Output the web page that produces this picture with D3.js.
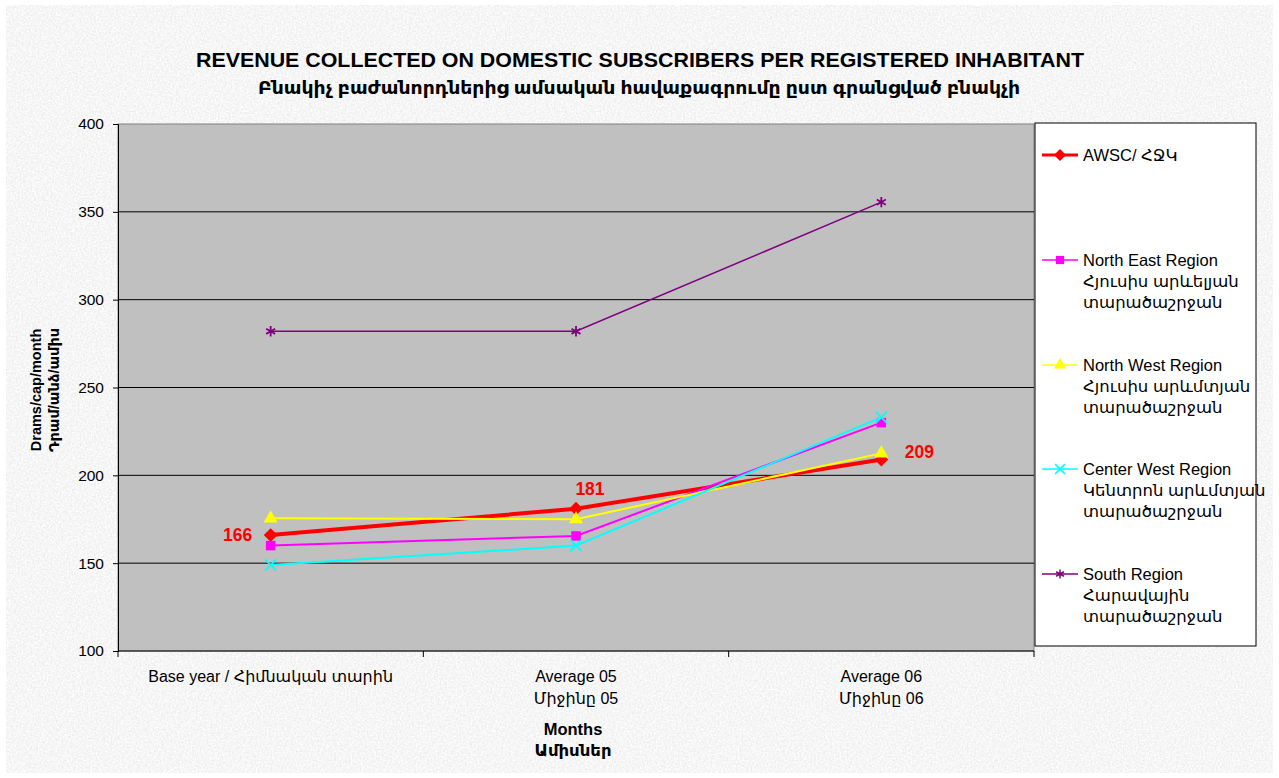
<!DOCTYPE html>
<html>
<head>
<meta charset="utf-8">
<script src="https://cdn.jsdelivr.net/npm/d3@7"></script>
<style>
  body { margin: 0; background: #fff; }
  svg { display: block; }
  text { font-family: "Liberation Sans", Arial, "DejaVu Sans", sans-serif; }
</style>
</head>
<body>
<script>
// revenue per registered inhabitant chart

const categories = ["Base year / Հիմնական տարին", "Average 05\nՄիջինը 05", "Average 06\nՄիջինը 06"];
const seriesNames = ["AWSC/ ՀՋԿ", "North East Region\nՀյուսիս արևելյան\nտարածաշրջան",
                     "North West Region\nՀյուսիս արևմտյան\nտարածաշրջան",
                     "Center West Region\nԿենտրոն արևմտյան\nտարածաշրջան",
                     "South Region\nՀարավային\nտարածաշրջան"];
const awsc = [166, 181, 209];
const northEast = [160, 165.5, 230];
const northWest = [175.5, 175, 212.5];
const centerWest = [149, 160, 233];
const south = [282, 282, 355.5];
const yTicks = [100, 150, 200, 250, 300, 350, 400];

const W = 1279, H = 778;
const plot = {left: 118, top: 124, right: 1034, bottom: 651};

const svg = d3.select("body").append("svg")
    .attr("width", W).attr("height", H);

// granite-ish background
const defs = svg.append("defs");
const f = defs.append("filter").attr("id", "granite")
    .attr("x", 0).attr("y", 0).attr("width", "100%").attr("height", "100%");
f.append("feTurbulence").attr("type", "fractalNoise")
    .attr("baseFrequency", 0.55).attr("numOctaves", 2).attr("seed", 3);
f.append("feColorMatrix").attr("type", "matrix")
    .attr("values", "0.28 0 0 0 0.78  0.28 0 0 0 0.78  0.28 0 0 0 0.78  0 0 0 0 1");

svg.append("rect").attr("x", 6).attr("y", 5).attr("width", W - 12).attr("height", H - 10)
    .attr("filter", "url(#granite)");

const x = d3.scalePoint().domain(d3.range(categories.length))
    .range([plot.left, plot.right]).padding(0.5);
const y = d3.scaleLinear().domain([100, 400]).range([plot.bottom, plot.top]);

// plot area
svg.append("rect").attr("x", plot.left).attr("y", plot.top)
    .attr("width", plot.right - plot.left).attr("height", plot.bottom - plot.top)
    .attr("fill", "#c0c0c0").attr("stroke", "#808080").attr("stroke-width", 1);

// gridlines
svg.append("g").selectAll("line").data(yTicks.slice(1, -1)).join("line")
    .attr("x1", plot.left).attr("x2", plot.right)
    .attr("y1", d => y(d)).attr("y2", d => y(d))
    .attr("stroke", "#000").attr("stroke-width", 1);

// y axis
const yAxis = svg.append("g").attr("transform", `translate(${plot.left},0)`)
    .call(d3.axisLeft(y).tickValues(yTicks).tickSize(5).tickPadding(9));
yAxis.select(".domain").attr("stroke", "#000");
yAxis.selectAll("text").attr("font-size", 15.5).attr("fill", "#000")
    .style("font-family", '"Liberation Sans", Arial, sans-serif');

// x axis: ticks between categories
const step = x.step();
const xb = d3.range(categories.length + 1).map(i => plot.left + i * step);
svg.append("line").attr("x1", plot.left).attr("x2", plot.right)
    .attr("y1", plot.bottom).attr("y2", plot.bottom).attr("stroke", "#000");
svg.append("g").selectAll("line").data(xb).join("line")
    .attr("x1", d => d).attr("x2", d => d)
    .attr("y1", plot.bottom).attr("y2", plot.bottom + 6).attr("stroke", "#000");

const xl = svg.append("g").selectAll("text").data(categories).join("text")
    .attr("text-anchor", "middle").attr("font-size", 16).attr("fill", "#000");
xl.each(function(d, i) {
  d3.select(this).selectAll("tspan").data(d.split("\n")).join("tspan")
    .attr("x", x(i)).attr("y", (t, j) => 682 + j * 22).text(t => t);
});

// axis titles
svg.append("text").attr("x", 573).attr("y", 735).attr("text-anchor", "middle")
    .attr("font-size", 16.5).attr("font-weight", "bold").text("Months");
svg.append("text").attr("x", 573).attr("y", 756).attr("text-anchor", "middle")
    .attr("font-size", 16.5).attr("font-weight", "bold").text("Ամիսներ");
const yt = svg.append("text").attr("transform", "translate(41,390) rotate(-90)")
    .attr("text-anchor", "middle").attr("font-size", 14.5).attr("font-weight", "bold");
yt.append("tspan").attr("x", 0).attr("y", 0).text("Drams/cap/month");
yt.append("tspan").attr("x", 0).attr("y", 18).text("Դրամ/անձ/ամիս");

// titles
svg.append("text").attr("x", 640).attr("y", 67).attr("text-anchor", "middle")
    .attr("font-size", 20.5).attr("font-weight", "bold")
    .attr("textLength", 888).attr("lengthAdjust", "spacingAndGlyphs")
    .text("REVENUE COLLECTED ON DOMESTIC SUBSCRIBERS PER REGISTERED INHABITANT");
svg.append("text").attr("x", 639).attr("y", 94).attr("text-anchor", "middle")
    .attr("font-size", 18).attr("font-weight", "bold")
    .attr("textLength", 762).attr("lengthAdjust", "spacingAndGlyphs")
    .text("Բնակիչ բաժանորդներից ամսական հավաքագրումը ըստ գրանցված բնակչի");

// series
const series = [
  {name: seriesNames[0], values: awsc, color: "#ff0000", width: 4, sym: d3.symbolSquare, size: 95, rot: 45, fill: true},
  {name: seriesNames[1], values: northEast, color: "#ff00ff", width: 2, sym: d3.symbolSquare, size: 90, rot: 0, fill: true},
  {name: seriesNames[2], values: northWest, color: "#ffff00", width: 2, sym: d3.symbolTriangle, size: 85, rot: 0, fill: true},
  {name: seriesNames[3], values: centerWest, color: "#00ffff", width: 2, sym: d3.symbolX, size: 85, rot: 0, fill: false},
  {name: seriesNames[4], values: south, color: "#800080", width: 1.5, sym: d3.symbolAsterisk, size: 75, rot: 0, fill: false}
];

const line = d3.line().x((d, i) => x(i)).y(d => y(d));
const sg = svg.append("g");
series.forEach(s => {
  sg.append("path").datum(s.values).attr("d", line)
    .attr("fill", "none").attr("stroke", s.color).attr("stroke-width", s.width);
  sg.append("g").selectAll("path").data(s.values).join("path")
    .attr("transform", (d, i) => `translate(${x(i)},${y(d)}) rotate(${s.rot})`)
    .attr("d", d3.symbol(s.sym, s.size))
    .attr("fill", s.fill ? s.color : "none")
    .attr("stroke", s.color).attr("stroke-width", s.fill ? 0 : 1.8);
});

// data labels for AWSC
const labelDx = [-33, 14, 38];
const labelDy = [6, -14, -2];
svg.append("g").selectAll("text").data(awsc).join("text")
    .attr("x", (d, i) => x(i) + labelDx[i]).attr("y", (d, i) => y(d) + labelDy[i])
    .attr("text-anchor", "middle").attr("font-size", 17.5).attr("font-weight", "bold")
    .attr("fill", "#ff0000").text(d => d);

// legend
const lg = svg.append("g");
lg.append("rect").attr("x", 1035).attr("y", 123).attr("width", 221).attr("height", 523)
    .attr("fill", "#fff").attr("stroke", "#000").attr("stroke-width", 1);
const legY = [155, 260, 365, 469, 574];
series.forEach((s, k) => {
  const cy = legY[k];
  lg.append("line").attr("x1", 1042).attr("x2", 1078).attr("y1", cy).attr("y2", cy)
    .attr("stroke", s.color).attr("stroke-width", s.width === 4 ? 3 : 1.5);
  lg.append("path").attr("transform", `translate(1060,${cy}) rotate(${s.rot})`)
    .attr("d", d3.symbol(s.sym, s.size * 0.75))
    .attr("fill", s.fill ? s.color : "none")
    .attr("stroke", s.color).attr("stroke-width", s.fill ? 0 : 1.5);
  const t = lg.append("text").attr("font-size", 16.5).attr("fill", "#000");
  s.name.split("\n").forEach((ln, j) => {
    t.append("tspan").attr("x", 1083).attr("y", cy + 6 + j * 21).text(ln);
  });
});
</script>
</body>
</html>
